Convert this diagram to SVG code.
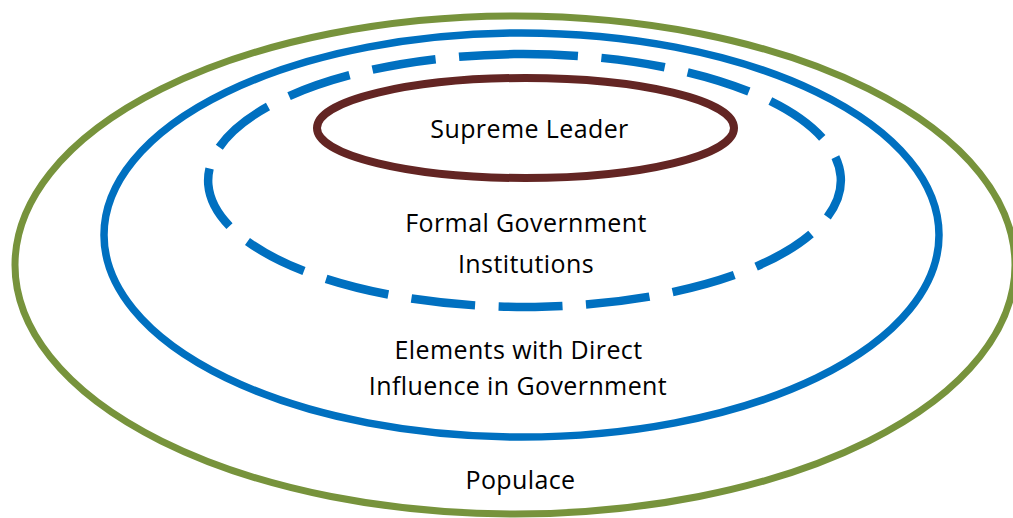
<svg xmlns="http://www.w3.org/2000/svg" width="1013" height="518" viewBox="0 0 1013 518">
<style>
  .lbl { font-family: "Open Sans", "Liberation Sans", sans-serif; font-size: 25px; letter-spacing: 0.4px; fill: #000; text-anchor: middle; }
  .ring { fill: none; }
</style>
<rect width="1013" height="518" fill="#fff"/>
<g id="populace">
  <ellipse class="ring" cx="515" cy="265" rx="500" ry="249" stroke="#77933C" stroke-width="7"/>
  <text class="lbl" x="520.5" y="489">Populace</text>
</g>
<g id="elements">
  <ellipse class="ring" cx="521.5" cy="235" rx="417.5" ry="202" stroke="#0070C0" stroke-width="7.5"/>
  <text class="lbl" x="518.5" y="359">Elements with Direct</text>
  <text class="lbl" x="518" y="395">Influence in Government</text>
</g>
<g id="formal">
  <path class="ring" d="M 514 54.07 A 317.5 126.5 0 0 1 535 306.93 A 317.5 126.5 0 0 1 514 54.07" stroke="#0070C0" stroke-width="8.5" stroke-dasharray="64 23.5"/>
  <text class="lbl" x="526" y="232">Formal Government</text>
  <text class="lbl" x="526" y="273">Institutions</text>
</g>
<g id="leader">
  <ellipse class="ring" cx="525.5" cy="128" rx="208.5" ry="50" stroke="#632523" stroke-width="8"/>
  <text class="lbl" x="529.5" y="138">Supreme Leader</text>
</g>
<g id="connectors"></g>
</svg>
